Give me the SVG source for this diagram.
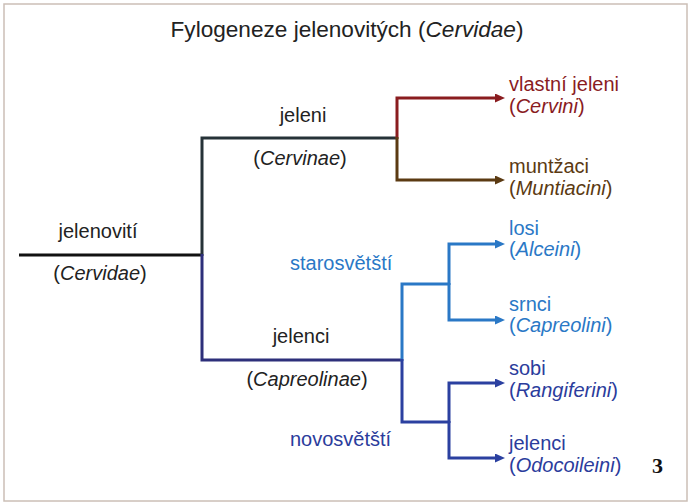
<svg xmlns="http://www.w3.org/2000/svg" width="694" height="503" viewBox="0 0 694 503">
<defs>
<style>
text{font-family:"Liberation Sans",Arial,sans-serif;font-size:20px;fill:#222}
.t{font-size:22.6px}
.c{text-anchor:middle}
.ln{fill:none;stroke-width:3;stroke-linejoin:miter}
.red{fill:#8a1c1f}.brn{fill:#5b3a12}.lb{fill:#2a78c6}.db{fill:#2b3c9c}
</style>
<marker id="aR" markerWidth="10" markerHeight="10" refX="0" refY="4.5" orient="auto" markerUnits="userSpaceOnUse"><path d="M0,0L10,4.5L0,9z" fill="#8a1c1f"/></marker>
<marker id="aB" markerWidth="10" markerHeight="10" refX="0" refY="4.5" orient="auto" markerUnits="userSpaceOnUse"><path d="M0,0L10,4.5L0,9z" fill="#5b3a12"/></marker>
<marker id="aL" markerWidth="10" markerHeight="10" refX="0" refY="4.5" orient="auto" markerUnits="userSpaceOnUse"><path d="M0,0L10,4.5L0,9z" fill="#2a78c6"/></marker>
<marker id="aD" markerWidth="10" markerHeight="10" refX="0" refY="4.5" orient="auto" markerUnits="userSpaceOnUse"><path d="M0,0L10,4.5L0,9z" fill="#2b40a0"/></marker>
</defs>
<rect x="0" y="0" width="694" height="503" fill="#fff"/>
<rect x="4" y="4" width="683" height="497" fill="none" stroke="#cbbfb6" stroke-width="1.5"/>
<text class="t c" x="347" y="37">Fylogeneze jelenovitých (<tspan font-style="italic">Cervidae</tspan>)</text>
<g id="connectors">
<path class="ln" d="M19,255H202" stroke="#111"/>
<path class="ln" d="M202,256V138H397" stroke="#263238"/>
<path class="ln" d="M202,254V360H402" stroke="#2d2f7a"/>
<path class="ln" d="M397,139V98H495" stroke="#8a1c1f" marker-end="url(#aR)"/>
<path class="ln" d="M397,137V180H495" stroke="#5b3a12" marker-end="url(#aB)"/>
<path class="ln" d="M402,361V284H449" stroke="#2a78c6"/>
<path class="ln" d="M449,285V244H495" stroke="#2a78c6" marker-end="url(#aL)"/>
<path class="ln" d="M449,283V320H495" stroke="#2a78c6" marker-end="url(#aL)"/>
<path class="ln" d="M402,359V422H449" stroke="#2b40a0"/>
<path class="ln" d="M449,423V383H495" stroke="#2b40a0" marker-end="url(#aD)"/>
<path class="ln" d="M449,421V458H495" stroke="#2b40a0" marker-end="url(#aD)"/>
</g>
<g id="cervidae"><text class="c" x="98" y="238">jelenovití</text><text class="c" x="100" y="280">(<tspan font-style="italic">Cervidae</tspan>)</text></g>
<g id="cervinae"><text class="c" x="303" y="122">jeleni</text><text class="c" x="300" y="165">(<tspan font-style="italic">Cervinae</tspan>)</text></g>
<g id="capreolinae"><text class="c" x="301" y="343">jelenci</text><text class="c" x="307" y="386">(<tspan font-style="italic">Capreolinae</tspan>)</text></g>
<g id="starosvetsti"><text class="lb" x="290" y="270">starosvětští</text></g>
<g id="novosvetsti"><text class="db" x="290" y="446">novosvětští</text></g>
<g id="cervini"><text class="red" x="509" y="91">vlastní jeleni</text><text class="red" x="509" y="113">(<tspan font-style="italic">Cervini</tspan>)</text></g>
<g id="muntiacini"><text class="brn" x="509" y="173">muntžaci</text><text class="brn" x="509" y="195">(<tspan font-style="italic">Muntiacini</tspan>)</text></g>
<g id="alceini"><text class="lb" x="509" y="235">losi</text><text class="lb" x="509" y="256">(<tspan font-style="italic">Alceini</tspan>)</text></g>
<g id="capreolini"><text class="lb" x="509" y="311">srnci</text><text class="lb" x="509" y="332">(<tspan font-style="italic">Capreolini</tspan>)</text></g>
<g id="rangiferini"><text class="db" x="509" y="375">sobi</text><text class="db" x="509" y="397">(<tspan font-style="italic">Rangiferini</tspan>)</text></g>
<g id="odocoileini"><text class="db" x="509" y="450">jelenci</text><text class="db" x="509" y="472">(<tspan font-style="italic">Odocoileini</tspan>)</text></g>
<text x="652" y="473" style="font-family:'Liberation Serif',serif;font-weight:bold;font-size:22px;fill:#111">3</text>
</svg>
